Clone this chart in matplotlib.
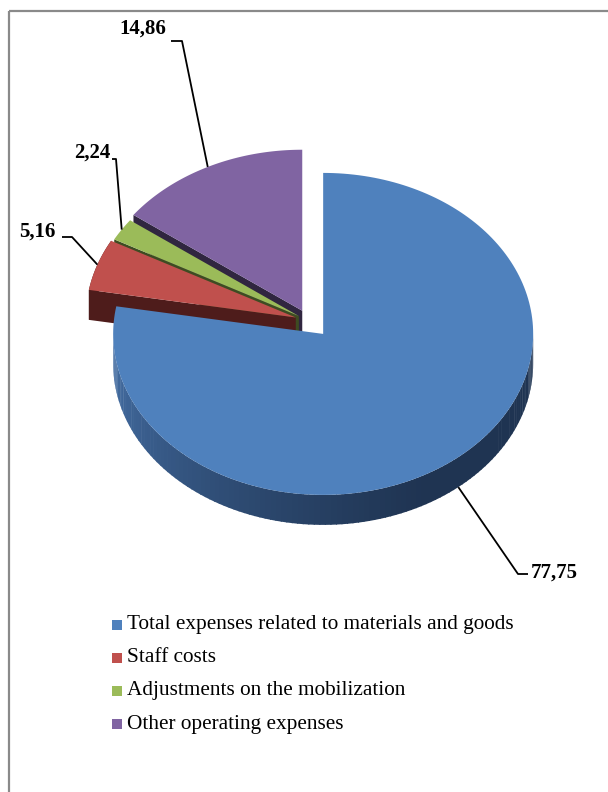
import numpy as np
import matplotlib.pyplot as plt
from matplotlib.patches import Polygon, Rectangle
from matplotlib.colors import to_rgb

# Data
labels = ['Total expenses related to materials and goods', 'Staff costs',
          'Adjustments on the mobilization', 'Other operating expenses']
values = [77.75, 5.16, 2.24, 14.86]
value_text = ['77,75', '5,16', '2,24', '14,86']

# Style
top_colors = ['#4F81BD', '#C0504D', '#9BBB59', '#8064A2']
wall_colors = ['#203450', '#4E1C1B', '#3E4C22', '#302640']
explode = [22, 14, 12, 15]
cx, cy = 309, 321          # pie centre (pixels)
rx, ry, depth = 210, 161, 30

plt.rcParams['font.family'] = ['Liberation Serif', 'DejaVu Serif']

fig = plt.figure(figsize=(6.08, 7.92), dpi=100)
ax = fig.add_axes([0, 0, 1, 1])
ax.set_xlim(0, 608)
ax.set_ylim(792, 0)
ax.axis('off')

# chart frame (right and bottom edges fall outside the picture)
ax.add_patch(Rectangle((8.5, 10.5), 700, 900, fill=False, edgecolor='#8a8a8a', lw=1.6))

bounds = np.concatenate([[0], np.cumsum(values)]) / np.sum(values) * 360.0


def pt(ox, oy, th, r=1.0):
    t = np.radians(th)
    return ox + rx * r * np.sin(t), oy - ry * r * np.cos(t)


def mix(c1, c2, f):
    a, b = np.array(to_rgb(c1)), np.array(to_rgb(c2))
    return tuple(a + (b - a) * f)


anchors = []
apexes = []
for i in range(len(values)):
    a0, a1 = bounds[i], bounds[i + 1]
    mid = (a0 + a1) / 2
    t = np.radians(mid)
    ox = cx + explode[i] * np.sin(t)
    oy = cy - explode[i] * np.cos(t) * ry / rx
    apexes.append((ox, oy))
    anchors.append(pt(ox, oy, mid))

# back slices first, blue last
order = [3, 2, 1, 0]
for i in order:
    a0, a1 = bounds[i], bounds[i + 1]
    ox, oy = apexes[i]
    if i != 0:
        # radial wall on the start edge (faces the viewer for the small slices)
        px, py = pt(ox, oy, a0)
        ax.add_patch(Polygon([(ox, oy), (px, py), (px, py + depth), (ox, oy + depth)],
                             closed=True, facecolor=wall_colors[i], edgecolor='none'))
        if i == 1:
            ths = np.linspace(a0, a1, 40)
            xs, ys = pt(ox, oy, ths)
            ax.add_patch(Polygon(list(zip(xs, ys)) + list(zip(xs[::-1], ys[::-1] + depth)),
                                 closed=True, facecolor=wall_colors[i], edgecolor='none'))
    else:
        # curved outer wall, shaded from left (lighter) to right (dark)
        ths = np.linspace(90, 270, 120)
        for k in range(len(ths) - 1):
            tt = np.array([ths[k], ths[k + 1] + 0.3])
            xs, ys = pt(ox, oy, tt)
            f = np.clip((ths[k] - 150) / 120.0, 0, 1)
            col = mix('#1F3452', '#4671A8', f ** 1.2)
            ax.add_patch(Polygon([(xs[0], ys[0]), (xs[1], ys[1]),
                                  (xs[1], ys[1] + depth), (xs[0], ys[0] + depth)],
                                 closed=True, facecolor=col, edgecolor='none'))
    ths = np.linspace(a0, a1, 200)
    xs, ys = pt(ox, oy, ths)
    ax.add_patch(Polygon([(ox, oy)] + list(zip(xs, ys)), closed=True,
                         facecolor=top_colors[i], edgecolor='none'))

# data labels with leader lines
label_pos = [(531, 573, 'left'), (56, 232, 'right'), (110, 153, 'right'), (166, 29, 'right')]
elbows = [[(518, 574), (528, 574)], [(72, 237), (62, 237)],
          [(116, 159), (112, 159)], [(182, 41), (171, 41)]]
for i in range(len(values)):
    axx, ayy = anchors[i]
    if i == 0:
        ayy += depth
    xs = [axx] + [p[0] for p in elbows[i]]
    ys = [ayy] + [p[1] for p in elbows[i]]
    ax.plot(xs, ys, color='black', lw=1.3, solid_capstyle='butt')
    lx, ly, ha = label_pos[i]
    ax.text(lx, ly, value_text[i], ha=ha, va='center', fontsize=15,
            fontweight='bold', color='black')

# legend
ys_leg = [625, 658, 691, 724]
for i in range(len(labels)):
    ax.add_patch(Rectangle((112, ys_leg[i] - 5), 10, 10, facecolor=top_colors[i],
                           edgecolor='none'))
    ax.text(127, ys_leg[i], labels[i], ha='left', va='center', fontsize=15.3, color='black')

fig.savefig('out.png', dpi=100)
